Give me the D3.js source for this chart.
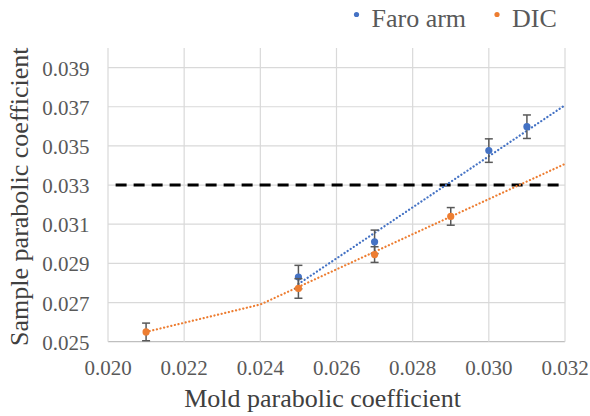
<!DOCTYPE html>
<html>
<head>
<meta charset="utf-8">
<script src="https://cdn.jsdelivr.net/npm/d3@7"></script>
<style>
  body { margin: 0; background: #fff; }
</style>
</head>
<body>
<svg id="chart" width="590" height="416"></svg>
<script>
// values
const xTicks = [0.020, 0.022, 0.024, 0.026, 0.028, 0.030, 0.032];
const yTicks = [0.025, 0.027, 0.029, 0.031, 0.033, 0.035, 0.037, 0.039];

const faroX = [0.025, 0.027, 0.030, 0.031];
const faroY = [0.0283, 0.0301, 0.03476, 0.03598];
const faroErr = [0.0006, 0.0006, 0.0006, 0.0006];

const dicX = [0.021, 0.025, 0.027, 0.029];
const dicY = [0.0255, 0.02772, 0.02945, 0.0314];
const dicErr = [0.00045, 0.0005, 0.0004, 0.00045];

// trendline points (as drawn in the picture)
const faroTrendX = [0.025, 0.032];
const faroTrendY = [0.02795, 0.03708];
const dicTrendX = [0.021, 0.024, 0.032];
const dicTrendY = [0.0255, 0.0269, 0.03408];

const limitY = 0.033;

const blue = "#4472C4", orange = "#ED7D31";
const serif = "'Liberation Serif'";

const svg = d3.select("#chart");
const plotLeft = 108, plotRight = 565, plotTop = 48, plotBottom = 341.7;

const x = d3.scaleLinear().domain([0.020, 0.032]).range([plotLeft, plotRight]);
const y = d3.scaleLinear().domain([0.025, 0.040]).range([plotBottom, plotTop]);

//gridlines
svg.append("g").selectAll("line").data(yTicks).join("line")
    .attr("x1", plotLeft).attr("x2", plotRight)
    .attr("y1", d => y(d)).attr("y2", d => y(d))
    .attr("stroke", d => d == 0.025 ? "#bfbfbf" : "#d9d9d9")
    .attr("stroke-width", 1.2);
svg.append("g").selectAll("line").data(xTicks).join("line")
    .attr("x1", d => x(d)).attr("x2", d => x(d))
    .attr("y1", plotTop).attr("y2", plotBottom)
    .attr("stroke", "#d9d9d9")
    .attr("stroke-width", 1.2);

//tick labels
svg.append("g").selectAll("text").data(yTicks).join("text")
    .attr("x", 89.5).attr("y", d => y(d) + 8)
    .attr("text-anchor", "end")
    .attr("font-size", 21).attr("fill", "#595959")
    .style("font-family", serif)
    .text(d => d3.format(".3f")(d));
svg.append("g").selectAll("text").data(xTicks).join("text")
    .attr("x", d => x(d)).attr("y", 375)
    .attr("text-anchor", "middle")
    .attr("font-size", 21).attr("fill", "#595959")
    .style("font-family", serif)
    .text(d => d3.format(".3f")(d));

//axis titles
svg.append("text")
    .attr("x", (plotLeft + plotRight) / 2 - 14).attr("y", 407)
    .attr("text-anchor", "middle")
    .attr("font-size", 26).attr("fill", "#404040")
    .style("font-family", serif)
    .text("Mold parabolic coefficient");
svg.append("text")
    .attr("transform", "translate(28," + 196.7 + ") rotate(-90)")
    .attr("text-anchor", "middle")
    .attr("font-size", 26).attr("fill", "#404040")
    .style("font-family", serif)
    .text("Sample parabolic coefficient");

//threshold line
svg.append("line")
    .attr("x1", x(0.0202)).attr("x2", plotRight)
    .attr("y1", y(limitY)).attr("y2", y(limitY))
    .attr("stroke", "#000").attr("stroke-width", 3)
    .attr("stroke-dasharray", "11,7");

//trendlines
const line = d3.line().x(d => x(d[0])).y(d => y(d[1]));
function trend(xs, ys, color) {
    svg.append("path")
        .datum(d3.zip(xs, ys))
        .attr("d", line)
        .attr("fill", "none")
        .attr("stroke", color)
        .attr("stroke-width", 2.2)
        .attr("stroke-linecap", "round")
        .attr("stroke-dasharray", "0.1,3.6");
}
trend(faroTrendX, faroTrendY, blue);
trend(dicTrendX, dicTrendY, orange);

//error bars and markers
function series(xs, ys, errs, color) {
    const g = svg.append("g");
    const data = d3.zip(xs, ys, errs);
    const bars = g.selectAll("g.err").data(data).join("g").attr("class", "err");
    bars.append("line")
        .attr("x1", d => x(d[0])).attr("x2", d => x(d[0]))
        .attr("y1", d => y(d[1] + d[2])).attr("y2", d => y(d[1] - d[2]));
    bars.append("line")
        .attr("x1", d => x(d[0]) - 4).attr("x2", d => x(d[0]) + 4)
        .attr("y1", d => y(d[1] + d[2])).attr("y2", d => y(d[1] + d[2]));
    bars.append("line")
        .attr("x1", d => x(d[0]) - 4).attr("x2", d => x(d[0]) + 4)
        .attr("y1", d => y(d[1] - d[2])).attr("y2", d => y(d[1] - d[2]));
    bars.selectAll("line").attr("stroke", "#595959").attr("stroke-width", 1.5);
    g.selectAll("circle").data(data).join("circle")
        .attr("cx", d => x(d[0])).attr("cy", d => y(d[1]))
        .attr("r", 3.6).attr("fill", color);
}
series(faroX, faroY, faroErr, blue);
series(dicX, dicY, dicErr, orange);

//legend
const legend = [["Faro arm", blue, 356.5], ["DIC", orange, 497]];
legend.forEach(([name, color, lx]) => {
    svg.append("circle").attr("cx", lx).attr("cy", 14.5).attr("r", 2.6).attr("fill", color);
    svg.append("text").attr("x", lx + 15).attr("y", 27)
        .attr("font-size", 26).attr("fill", "#595959")
        .style("font-family", serif)
        .text(name);
});
</script>
</body>
</html>
